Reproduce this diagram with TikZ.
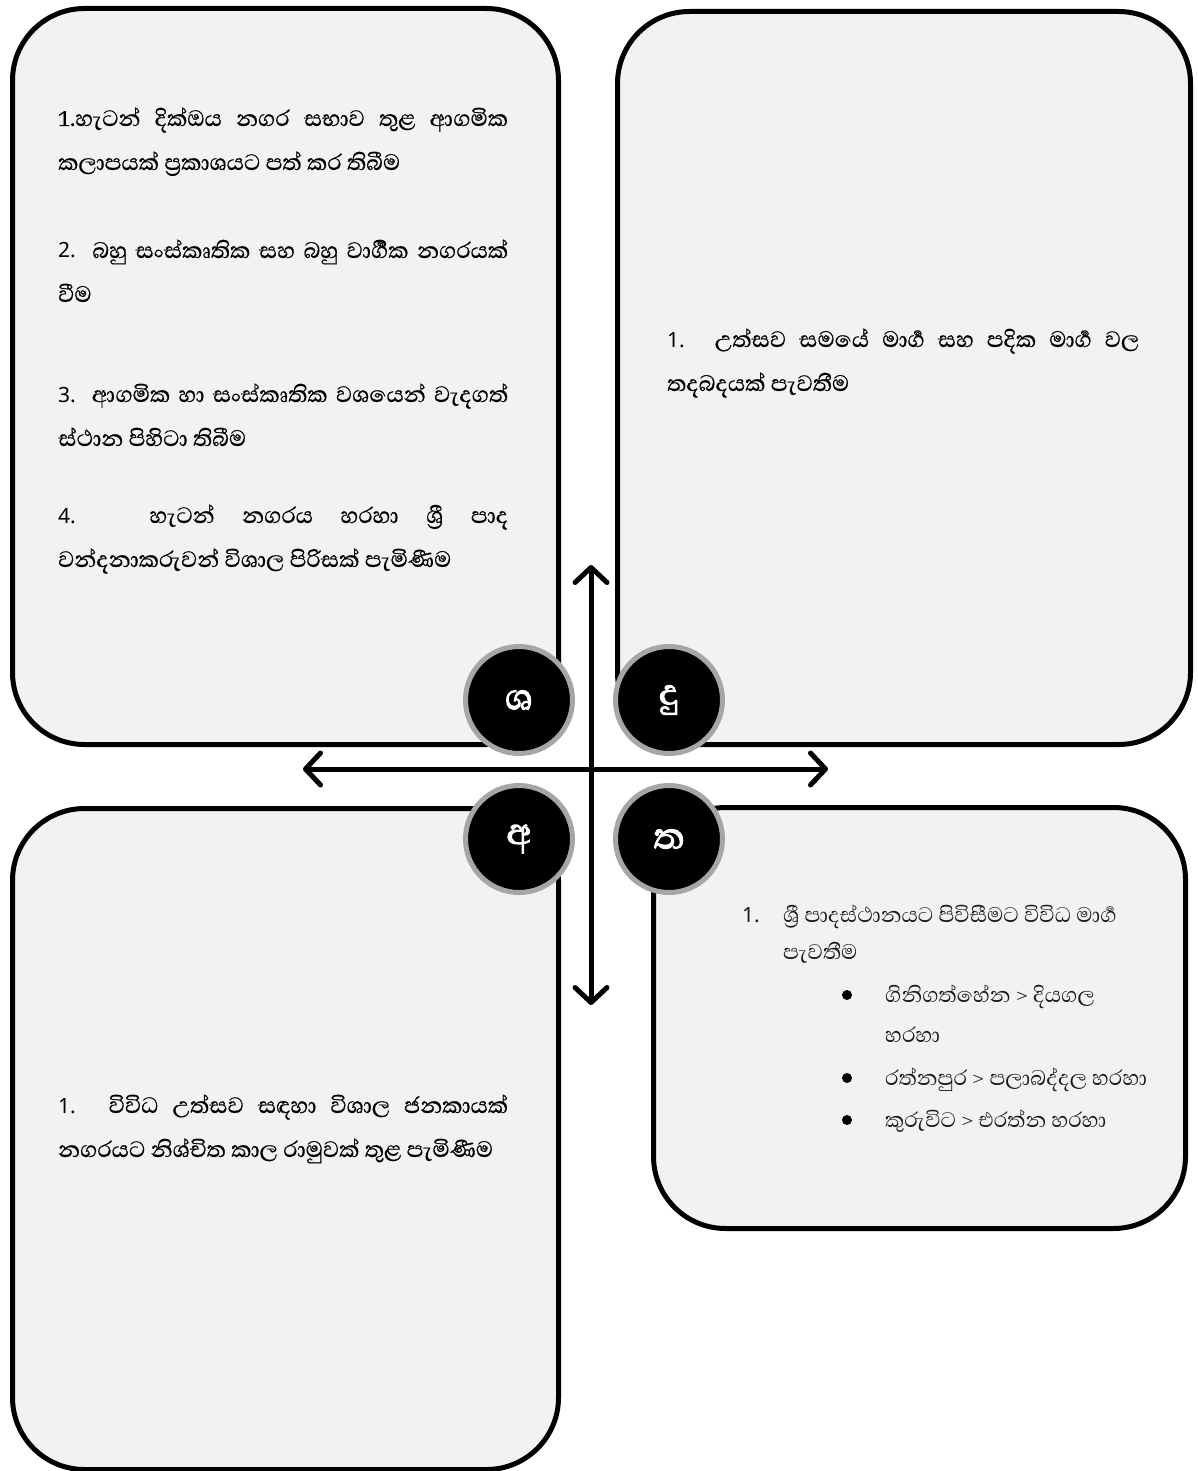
\documentclass[tikz,border=0pt]{standalone}
\usepackage{fontspec}
\setmainfont{Liberation Serif}
\newfontfamily\sinhfont[Script=Sinhala,FakeBold=0.6]{Abhaya Libre}
\newfontfamily\sinhlight[Script=Sinhala]{Abhaya Libre}
\newfontfamily\sinhbold[Script=Sinhala,FakeBold=2.5]{Abhaya Libre}
\newfontfamily\numf{Noto Sans}
\usetikzlibrary{arrows.meta}
\definecolor{boxfill}{HTML}{F2F2F2}
\definecolor{ringgray}{HTML}{A6A6A6}
\definecolor{softtext}{HTML}{1A1A1A}
\newcommand{\tf}{\sinhfont\fontsize{28.5}{44}\selectfont}
\newcommand{\tfl}{\sinhlight\fontsize{27}{40}\selectfont}
\newcommand{\nf}[1]{{\numf\fontsize{21}{44}\selectfont #1}}
\newcommand{\lineS}[2]{\makebox[#1][s]{#2}}
\begin{document}
\begin{tikzpicture}[x=1pt,y=-1pt,
  quad/.style={draw=black, line width=5pt, fill=boxfill, rounded corners=72pt, inner sep=0pt, anchor=north west},
  badge/.style={circle, draw=ringgray, line width=5pt, fill=black, minimum size=107pt, inner sep=0pt, text=white, font={\sinhbold\fontsize{46}{50}\selectfont}},
  txt/.style={anchor=base west, inner sep=0pt, font=\tf},
  ltxt/.style={anchor=base west, inner sep=0pt, font=\tfl, text=softtext},
  bigarrow/.style={line width=5pt, {Straight Barb[length=15pt,width=32pt,line cap=round,line join=round]}-{Straight Barb[length=15pt,width=32pt,line cap=round,line join=round]}},
  dot/.style={circle, fill=black, minimum size=10pt, inner sep=0pt}]
\useasboundingbox (0,0) rectangle (1198,1471);
\fill[white] (0,0) rectangle (1198,1471);
% boxes
\node[quad, minimum width=546pt, minimum height=736pt] (bS) at (10,6) {};
\node[quad, minimum width=573pt, minimum height=733pt] (bW) at (615,9) {};
\node[quad, minimum width=546pt, minimum height=661pt] (bO) at (10,806) {};
\node[quad, minimum width=532pt, minimum height=421pt] (bT) at (651,805) {};
% texts top-left
\node[txt] (s1) at (58,126) {\parbox[t]{450pt}{\lineS{450pt}{1.හැටන් දික්ඔය නගර සභාව තුළ ආගමික}\\කලාපයක් ප්^^^^200dරකාශයට පත් කර තිබීම}};
\node[txt] (s2) at (58,258) {\parbox[t]{450pt}{\lineS{450pt}{\nf{2.} බහු සංස්කෘතික සහ බහු වාර්^^^^200dගික නගරයක්}\\වීම}};
\node[txt] (s3) at (58,402) {\parbox[t]{450pt}{\lineS{450pt}{\nf{3.} ආගමික හා සංස්කෘතික වශයෙන් වැදගත්}\\ස්ථාන පිහිටා තිබීම}};
\node[txt] (s4) at (58,523) {\parbox[t]{450pt}{\lineS{450pt}{\nf{4.} හැටන් නගරය හරහා ශ්^^^^200dරී පාද}\\වන්දනාකරුවන් විශාල පිරිසක් පැමිණීම}};
% text top-right
\node[txt] (w1) at (667,347) {\parbox[t]{472pt}{\lineS{472pt}{\nf{1.} උත්සව සමයේ මාර්^^^^200dග සහ පදික මාර්^^^^200dග වල}\\තදබදයක් පැවතීම}};
% text bottom-left
\node[txt] (o1) at (58,1113) {\parbox[t]{450pt}{\lineS{450pt}{\nf{1.} විවිධ උත්සව සඳහා විශාල ජනකායක්}\\නගරයට නිශ්චිත කාල රාමුවක් තුළ පැමිණීම}};
% text bottom-right
\node[ltxt] (t1n) at (742,922) {\nf{1.}};
\node[ltxt] (t1) at (783,922) {\parbox[t]{390pt}{\baselineskip=37pt ශ්^^^^200dරී පාදස්ථානයට පිවිසීමට විවිධ මාර්^^^^200dග\\පැවතීම}};
\node[dot] (d1) at (847,995) {};
\node[dot] (d2) at (847,1078) {};
\node[dot] (d3) at (847,1120) {};
\node[ltxt] (t2) at (885,1002) {\parbox[t]{280pt}{\baselineskip=40pt ගිනිගත්හේන > දියගල\\හරහා}};
\node[ltxt] (t3) at (885,1085) {රත්නපුර > පලාබද්දල හරහා};
\node[ltxt] (t4) at (885,1127) {කුරුවිට > එරත්න හරහා};
% arrows
\coordinate (aL) at (303,769);
\coordinate (aR) at (828,769);
\coordinate (aU) at (591,565);
\coordinate (aD) at (591,1005);
\draw[bigarrow] (aL) -- (aR);
\draw[bigarrow] (aU) -- (aD);
% badges
\node[badge] (cS) at (519,700) {ශ};
\node[badge] (cW) at (669,700) {දු};
\node[badge] (cO) at (519,839) {අ};
\node[badge] (cT) at (669,839) {ත};
\end{tikzpicture}
\end{document}
